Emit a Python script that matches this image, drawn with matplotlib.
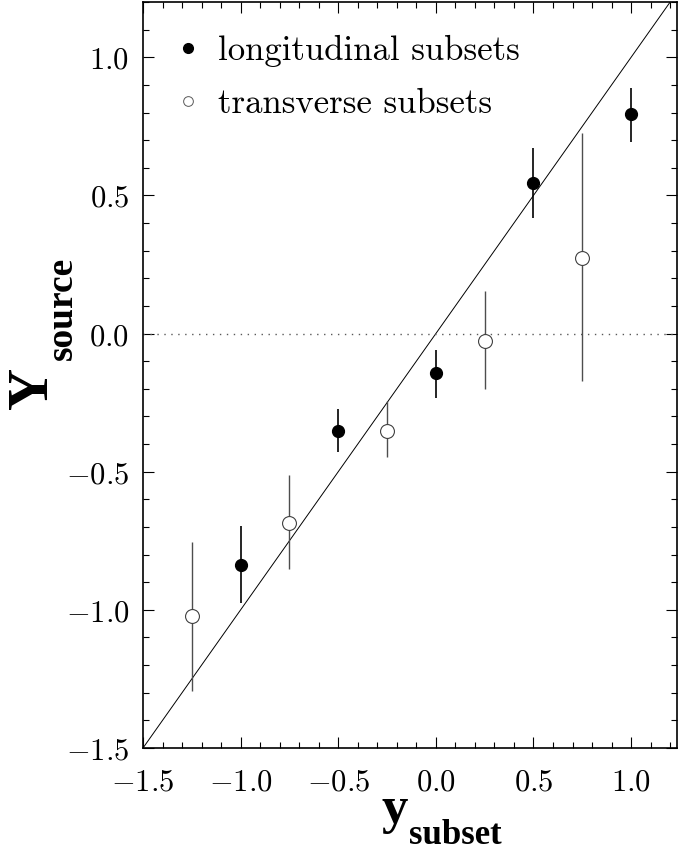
import numpy as np
import matplotlib
matplotlib.use("Agg")
import matplotlib.pyplot as plt
from matplotlib.ticker import MultipleLocator, FuncFormatter
from matplotlib.lines import Line2D
from matplotlib.font_manager import FontProperties

# Data
x_long = [-1.0, -0.5, 0.0, 0.5, 1.0]
y_long = [-0.836, -0.351, -0.144, 0.544, 0.793]
lo_long = [-0.974, -0.427, -0.232, 0.42, 0.694]
hi_long = [-0.695, -0.273, -0.058, 0.67, 0.89]

x_trans = [-1.25, -0.75, -0.25, 0.25, 0.75]
y_trans = [-1.024, -0.685, -0.351, -0.028, 0.275]
lo_trans = [-1.294, -0.853, -0.448, -0.20, -0.17]
hi_trans = [-0.753, -0.513, -0.245, 0.153, 0.726]

x_min, x_max = -1.5, 1.235
y_min, y_max = -1.5, 1.2
x_ticks = [-1.5, -1.0, -0.5, 0.0, 0.5, 1.0]
y_ticks = [-1.5, -1.0, -0.5, 0.0, 0.5, 1.0]

plt.rcParams['mathtext.fontset'] = 'cm'

W, H = 679, 851
fig = plt.figure(figsize=(W / 100, H / 100), dpi=100)
ax = fig.add_axes([143 / W, 1 - 748 / H, 534 / W, 746 / H])

# reference line y = x and dotted zero line
diag = np.array([x_min, y_max])
ax.plot(diag, diag, color='black', lw=0.7)
ax.axhline(0.0, color='0.35', lw=1.0, ls=(0, (1, 4)))

# error bars
y_long_a = np.array(y_long)
y_trans_a = np.array(y_trans)
err_long = [y_long_a - np.array(lo_long), np.array(hi_long) - y_long_a]
err_trans = [y_trans_a - np.array(lo_trans), np.array(hi_trans) - y_trans_a]

ax.errorbar(x_trans, y_trans, yerr=err_trans, fmt='o', ms=10, mfc='white',
            mec='0.25', mew=0.8, ecolor='0.3', elinewidth=1.0, capsize=0, zorder=3)
ax.errorbar(x_long, y_long, yerr=err_long, fmt='o', ms=8.5, mfc='black',
            mec='black', ecolor='black', elinewidth=1.2, capsize=0, zorder=4)

ax.set_xlim(x_min, x_max)
ax.set_ylim(y_min, y_max)
ax.set_xticks(x_ticks)
ax.set_yticks(y_ticks)
ax.xaxis.set_minor_locator(MultipleLocator(0.1))
ax.yaxis.set_minor_locator(MultipleLocator(0.1))
fmt = FuncFormatter(lambda v, p: r'$%.1f$' % v)
ax.xaxis.set_major_formatter(fmt)
ax.yaxis.set_major_formatter(fmt)
ax.tick_params(which='both', direction='in', top=True, right=True, width=0.8)
ax.tick_params(which='major', length=8, labelsize=22)
ax.tick_params(axis='x', which='major', pad=14)
ax.tick_params(axis='y', which='major', pad=10)
ax.tick_params(which='minor', length=4.5)
for s in ax.spines.values():
    s.set_linewidth(1.2)

# legend
handles = [
    Line2D([], [], ls='none', marker='o', ms=7, mfc='black', mec='black'),
    Line2D([], [], ls='none', marker='o', ms=7, mfc='white', mec='0.35', mew=0.7),
]
ax.legend(handles, ['longitudinal subsets', 'transverse subsets'],
          loc='upper left', frameon=False, prop=FontProperties(family='cmr10', size=25),
          handlelength=0.7, handletextpad=0.52, borderpad=0.0, borderaxespad=0.95,
          labelspacing=0.62)

# axis labels
bold = dict(family='Liberation Serif', weight='bold', color='black')
fig.text(395 / W, 1 - 823 / H, 'y', fontsize=38, ha='center', va='baseline', **bold)
fig.text(409 / W, 1 - 844 / H, 'subset', fontsize=25, ha='left', va='baseline', **bold)
fig.text(47 / W, 1 - 388 / H, 'Y', fontsize=42, rotation=90, rotation_mode='anchor',
         ha='center', va='baseline', **bold)
fig.text(72 / W, 1 - 360 / H, 'source', fontsize=27, rotation=90, rotation_mode='anchor',
         ha='left', va='baseline', **bold)

fig.savefig('out.png', dpi=100)
